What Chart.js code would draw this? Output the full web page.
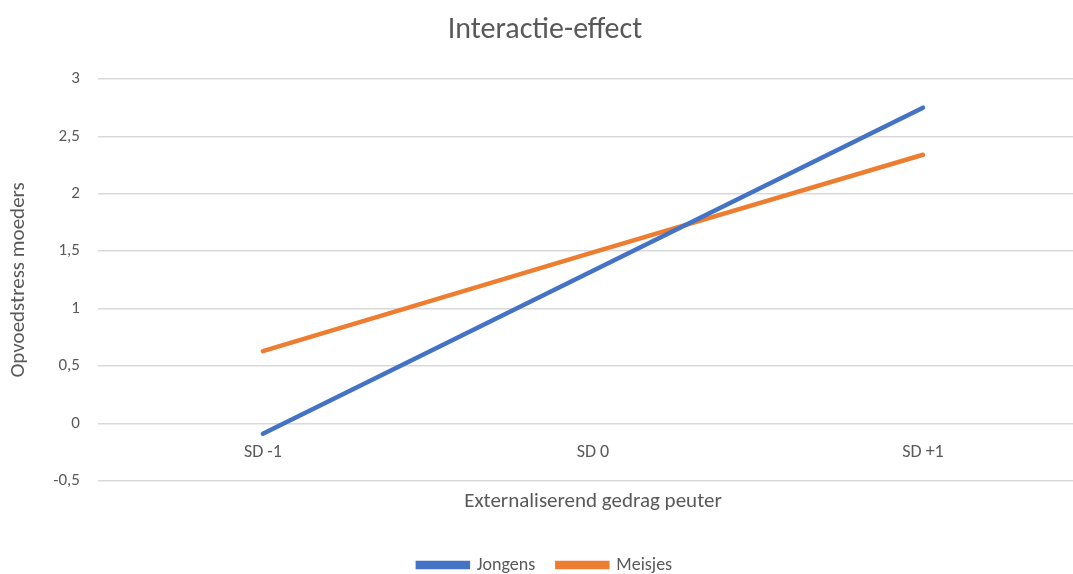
<!DOCTYPE html>
<html>
<head>
<meta charset="utf-8">
<script src="https://cdn.jsdelivr.net/npm/chart.js@4.4.1/dist/chart.umd.min.js"></script>
<style>
  html, body { margin: 0; padding: 0; background: #fff; overflow: hidden; }
  #wrap { width: 1088px; height: 574px; }
</style>
</head>
<body>
<div id="wrap"><canvas id="chart" width="1088" height="574"></canvas></div>
<script>
const categories = ['SD -1', 'SD 0', 'SD +1'];
const jongens = [-0.09, 1.33, 2.75];
const meisjes = [0.63, 1.49, 2.34];
const yTicks = [-0.5, 0, 0.5, 1, 1.5, 2, 2.5, 3];

const grey = '#595959';
const font = 'Calibri, Carlito, Lato, "Open Sans", sans-serif';

new Chart(document.getElementById('chart'), {
  type: 'line',
  data: {
    labels: categories,
    datasets: [
      { label: 'Jongens', data: jongens, borderColor: '#4472C4', backgroundColor: '#4472C4',
        borderWidth: 4.5, pointRadius: 0, borderCapStyle: 'round', xAxisID: 'x' },
      { label: 'Meisjes', data: meisjes, borderColor: '#ED7D31', backgroundColor: '#ED7D31',
        borderWidth: 4.5, pointRadius: 0, borderCapStyle: 'round', xAxisID: 'x' }
    ]
  },
  options: {
    responsive: false,
    animation: false,
    layout: { padding: { top: 8, left: 2, bottom: -10 } },
    plugins: {
      title: { display: true, text: 'Interactie-effect', color: grey,
        font: { family: font, size: 30, weight: 'normal' }, padding: { top: 4, bottom: 31 } },
      legend: { position: 'bottom',
        labels: { color: grey, font: { family: font, size: 18 }, boxWidth: 50, boxHeight: 4, padding: 22 } },
      tooltip: { enabled: false }
    },
    scales: {
      x: {
        offset: true,
        grid: { display: false },
        border: { display: false },
        ticks: { display: false, padding: 0 },
        title: { display: true, text: 'Externaliserend gedrag peuter', color: grey,
          font: { family: font, size: 21 }, padding: { top: 0, bottom: 20 } }
      },
      x2: {
        type: 'category',
        labels: categories,
        offset: true,
        position: { y: 0 },
        grid: { display: false },
        border: { display: false },
        ticks: { color: grey, font: { family: font, size: 18 }, padding: 10 }
      },
      y: {
        min: -0.5, max: 3,
        afterBuildTicks: axis => { axis.ticks = yTicks.map(v => ({ value: v })); },
        grid: { color: '#d9d9d9', lineWidth: 1.5, drawTicks: false },
        border: { display: false },
        ticks: { color: grey, font: { family: font, size: 17 }, padding: 18,
          callback: v => String(v).replace('.', ',') },
        title: { display: true, text: 'Opvoedstress moeders', color: grey,
          font: { family: font, size: 21 }, padding: { bottom: 4 } }
      }
    }
  }
});
</script>
</body>
</html>
